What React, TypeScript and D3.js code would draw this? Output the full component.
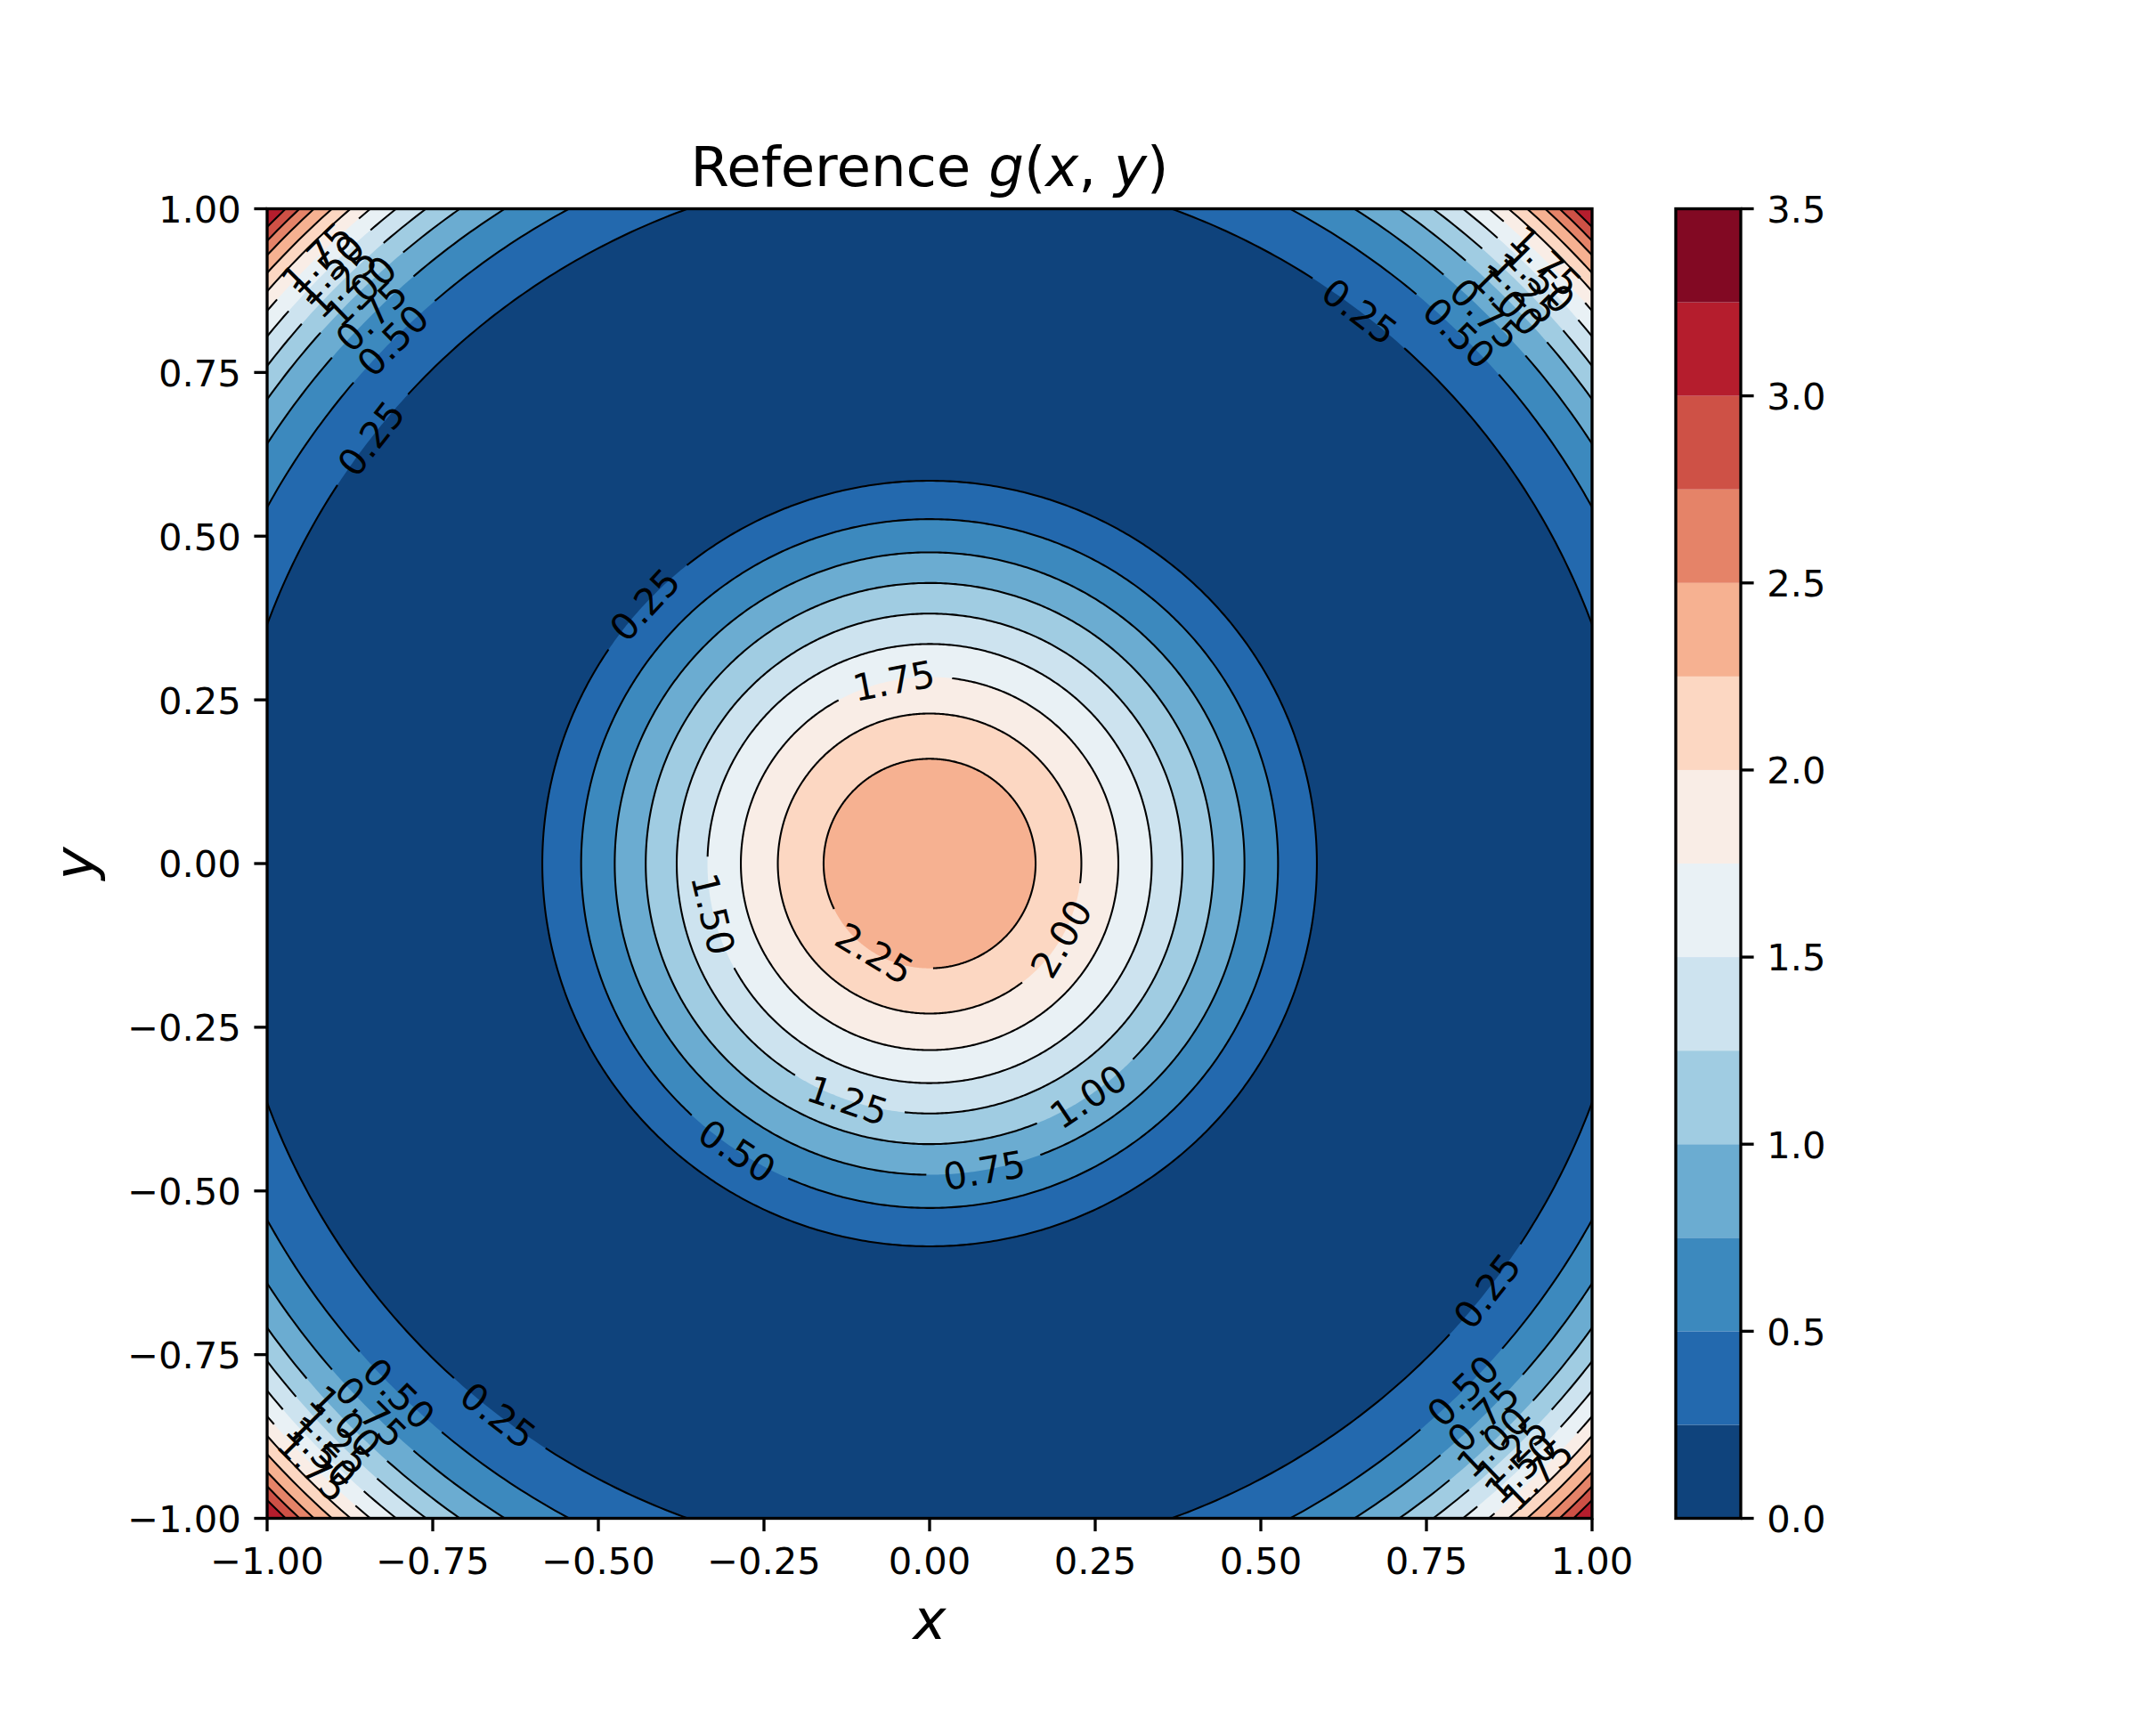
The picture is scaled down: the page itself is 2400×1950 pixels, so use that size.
import React, { useEffect, useRef } from 'react';
import * as d3 from 'd3';

const WIDTH = 2400;
const HEIGHT = 1950;
const PLOT = { left: 300, right: 1788, top: 234.5, bottom: 1705.5 };
const BAR = { left: 1882, right: 1955 };
const FONT = '"DejaVu Sans", sans-serif';

// contour levels, from the colorbar
const levels = [0.25, 0.5, 0.75, 1.0, 1.25, 1.5, 1.75, 2.0, 2.25, 2.5, 2.75, 3.0];
const barEdges = [0, 0.25, 0.5, 0.75, 1.0, 1.25, 1.5, 1.75, 2.0, 2.25, 2.5, 2.75, 3.0, 3.25, 3.5];
const barColors = [
  '#0f437c', '#2369ae', '#3c89be', '#6bacd1', '#a0cce2', '#cde3ef', '#e9f1f5',
  '#f9ede6', '#fcd7c2', '#f6b191', '#e58368', '#ce5146', '#b51d2d', '#820923'
];
const plotTicks = [-1, -0.75, -0.5, -0.25, 0, 0.25, 0.5, 0.75, 1];
const barTicks = [0, 0.5, 1, 1.5, 2, 2.5, 3, 3.5];

// radius of each contour (levels 0.25 .. 2.25 near the middle)
const innerRadii = [0.5846, 0.526, 0.4753, 0.4285, 0.3817, 0.3353, 0.2849, 0.2291, 0.16];
// same levels where they come back in the corners (0.25 .. 3.0)
const outerRadii = [1.0645, 1.1384, 1.1878, 1.2258, 1.256, 1.2838, 1.3086, 1.3281, 1.3467, 1.365, 1.38, 1.3946];

// angle in degrees of each inline label, 0 = +x, counter clockwise
const innerLabelAngles = [137.4, 236.5, 280, 304, 251.1, 193.3, 101, 330, 238.8];
const topLeftAngles = [142.4, 135.4, 135.2, 134.5, 135, 135, 135];
const topRightAngles = [52.4, 45.4, 45, 44.6, 44.4, 44.2, 44.7];
const bottomLeftAngles = [232.3, 225.3, 224.8, 224, 224.4, 224.4, 224.7];
const bottomRightAngles = [322.2, 315, 314.7, 313.9, 314.4, 314, 314.5];

const LABEL_GAP = 130;

const x = d3.scaleLinear().domain([-1, 1]).range([PLOT.left, PLOT.right]);
const y = d3.scaleLinear().domain([-1, 1]).range([PLOT.bottom, PLOT.top]);
const barY = d3.scaleLinear().domain([0, 3.5]).range([PLOT.bottom, PLOT.top]);

const toRad = (deg: number) => (deg * Math.PI) / 180;
const pxX = (r: number, deg: number) => x(r * Math.cos(toRad(deg)));
const pxY = (r: number, deg: number) => y(r * Math.sin(toRad(deg)));

const ringLine = (r: number) =>
  d3.line<number>().x((a) => pxX(r, a)).y((a) => pxY(r, a));

/**
 * Ring path with holes left where the labels sit
 */
function brokenRing(r: number, labelAngles: number[]) {
  const pxR = r * (x(1) - x(0));
  const half = (Math.asin(Math.min(1, LABEL_GAP / 2 / pxR)) * 180) / Math.PI;
  if (!labelAngles.length) {
    return ringLine(r)(d3.range(0, 360.5, 0.5)) + 'Z';
  }
  const sorted = [...labelAngles].sort(d3.ascending);
  return sorted.map((a, i) => {
    const start = a + half;
    const end = (i + 1 < sorted.length ? sorted[i + 1] : sorted[0] + 360) - half;
    return ringLine(r)(d3.range(start, end, 0.5).concat(end));
  }).join('');
}

function labelRotation(deg: number) {
  const a = toRad(deg);
  const dx = -Math.sin(a) * (x(1) - x(0));
  const dy = -Math.cos(a) * (y(0) - y(1));
  let rot = (Math.atan2(dy, dx) * 180) / Math.PI;
  if (rot > 90) rot -= 180;
  if (rot <= -90) rot += 180;
  return rot;
}

function Axis({ axis, transform, textDy }: { axis: any; transform?: string; textDy: string }) {
  const ref = useRef<SVGGElement>(null);
  useEffect(() => {
    const g = d3.select(ref.current);
    g.call(axis);
    g.attr('font-size', 41.67).attr('font-family', FONT);
    g.select('.domain').remove();
    g.selectAll('.tick line').attr('stroke', '#000').attr('stroke-width', 3.33);
    g.selectAll('.tick text').attr('fill', '#000').attr('dy', textDy);
  }, []);
  return <g ref={ref} transform={transform} />;
}

function ContourLabel({ r, angle, level }: { r: number; angle: number; level: number }) {
  const px = pxX(r, angle);
  const py = pxY(r, angle);
  return (
    <text
      transform={`translate(${px},${py}) rotate(${labelRotation(angle)})`}
      textAnchor="middle"
      dy="0.3645em"
      fontSize={41.67}
    >
      {d3.format('.2f')(level)}
    </text>
  );
}

export default function App() {
  const axisOffset = 0;
  const xAxis = d3.axisBottom(x).tickValues(plotTicks).tickSize(14.6).tickPadding(14.6).offset(axisOffset).tickFormat(d3.format('.2f') as any);
  const yAxis = d3.axisLeft(y).tickValues(plotTicks).tickSize(14.6).tickPadding(14.6).offset(axisOffset).tickFormat(d3.format('.2f') as any);
  const cAxis = d3.axisRight(barY).tickValues(barTicks).tickSize(14.6).tickPadding(14.6).offset(axisOffset).tickFormat(d3.format('.1f') as any);

  const cornerAngles = [topLeftAngles, topRightAngles, bottomLeftAngles, bottomRightAngles];

  return (
    <svg
      width={WIDTH}
      height={HEIGHT}
      viewBox={`0 0 ${WIDTH} ${HEIGHT}`}
      style={{ position: 'absolute', left: 0, top: 0, display: 'block', background: '#fff' }}
      fontFamily={FONT}
    >
      <defs>
        <clipPath id="plot-clip">
          <rect x={PLOT.left} y={PLOT.top} width={PLOT.right - PLOT.left} height={PLOT.bottom - PLOT.top} />
        </clipPath>
      </defs>

      <g clipPath="url(#plot-clip)">
        {/* beyond the last corner contour */}
        <rect x={PLOT.left} y={PLOT.top} width={PLOT.right - PLOT.left} height={PLOT.bottom - PLOT.top} fill={barColors[outerRadii.length]} />
        {outerRadii.map((r, i) => ({ r, i })).reverse().map(({ r, i }) => (
          <path key={`of${i}`} d={ringLine(r)(d3.range(0, 360, 0.5)) + 'Z'} fill={barColors[i]} />
        ))}
        {innerRadii.map((r, i) => (
          <path key={`if${i}`} d={ringLine(r)(d3.range(0, 360, 0.5)) + 'Z'} fill={barColors[i + 1]} />
        ))}

        {outerRadii.map((r, i) => (
          <path
            key={`ol${i}`}
            d={brokenRing(r, i < topLeftAngles.length ? cornerAngles.map((c) => c[i]) : []) as string}
            fill="none"
            stroke="#000"
            strokeWidth={2.08}
          />
        ))}
        {innerRadii.map((r, i) => (
          <path
            key={`il${i}`}
            d={brokenRing(r, [innerLabelAngles[i]]) as string}
            fill="none"
            stroke="#000"
            strokeWidth={2.08}
          />
        ))}
      </g>

      {innerRadii.map((r, i) => (
        <ContourLabel key={`it${i}`} r={r} angle={innerLabelAngles[i]} level={levels[i]} />
      ))}
      {cornerAngles.map((angles, c) =>
        angles.map((a, i) => (
          <ContourLabel key={`ct${c}-${i}`} r={outerRadii[i]} angle={a} level={levels[i]} />
        ))
      )}

      <rect
        x={PLOT.left}
        y={PLOT.top}
        width={PLOT.right - PLOT.left}
        height={PLOT.bottom - PLOT.top}
        fill="none"
        stroke="#000"
        strokeWidth={3.33}
      />
      <Axis axis={xAxis} transform={`translate(0,${PLOT.bottom})`} textDy="0.79em" />
      <Axis axis={yAxis} transform={`translate(${PLOT.left},0)`} textDy="0.37em" />

      {barColors.map((color, i) => (
        <rect
          key={color}
          x={BAR.left}
          y={barY(barEdges[i + 1])}
          width={BAR.right - BAR.left}
          height={barY(barEdges[i]) - barY(barEdges[i + 1])}
          fill={color}
        />
      ))}
      <rect
        x={BAR.left}
        y={PLOT.top}
        width={BAR.right - BAR.left}
        height={PLOT.bottom - PLOT.top}
        fill="none"
        stroke="#000"
        strokeWidth={3.33}
      />
      <Axis axis={cAxis} transform={`translate(${BAR.right},0)`} textDy="0.37em" />

      <text x={(PLOT.left + PLOT.right) / 2} y={209} textAnchor="middle" fontSize={62.5}>
        Reference <tspan fontStyle="italic">g</tspan>(<tspan fontStyle="italic">x</tspan>, <tspan fontStyle="italic">y</tspan>)
      </text>
      <text x={(PLOT.left + PLOT.right) / 2} y={1841} textAnchor="middle" fontSize={62.5} fontStyle="italic">x</text>
      <text
        transform={`translate(105,${(PLOT.top + PLOT.bottom) / 2}) rotate(-90)`}
        textAnchor="middle"
        fontSize={62.5}
        fontStyle="italic"
      >
        y
      </text>
    </svg>
  );
}
